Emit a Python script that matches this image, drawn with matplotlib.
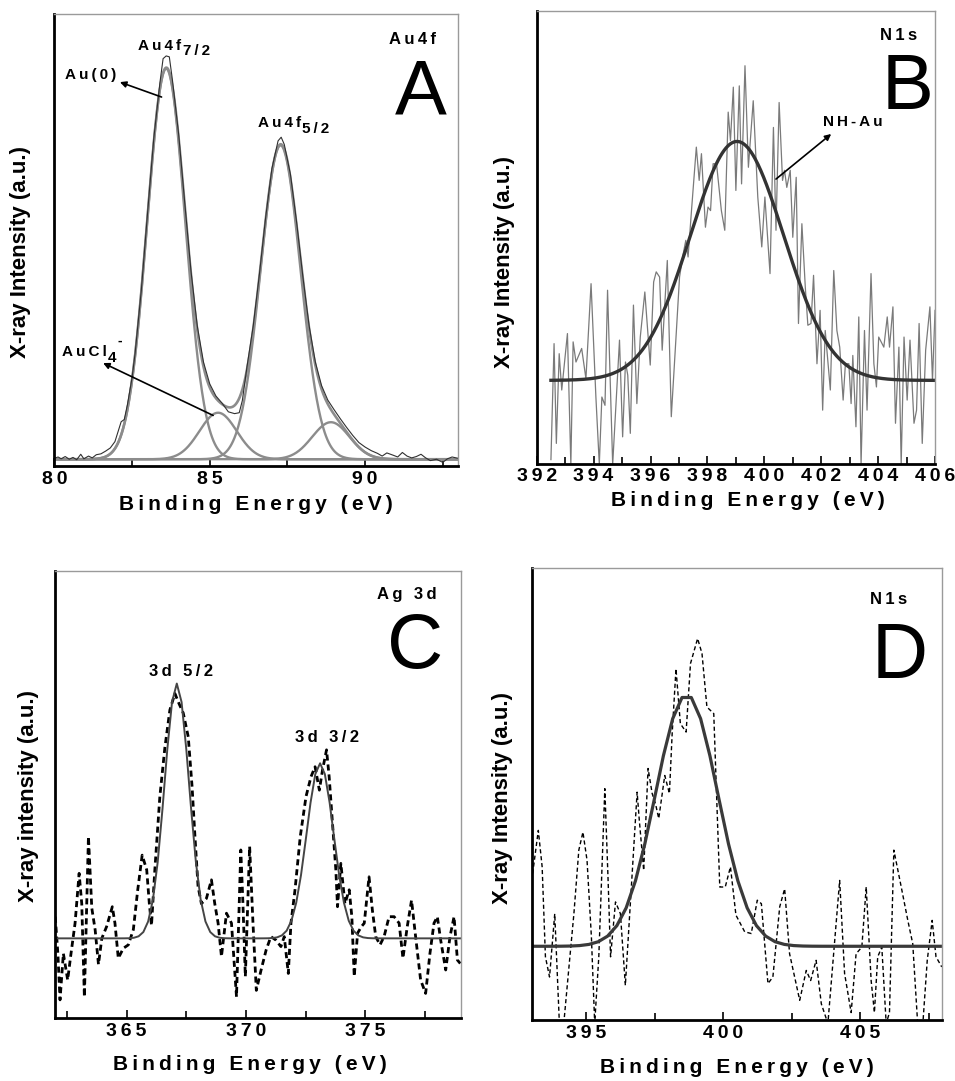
import numpy as np
import matplotlib.pyplot as plt

plt.rcParams['font.family'] = ['Liberation Sans', 'DejaVu Sans']

# ---------------- A : Au 4f ----------------
a_energy = [80.0, 80.12, 80.22, 80.35, 80.48, 80.6, 80.72, 80.85, 80.95, 81.1,
            81.22, 81.35, 81.5, 81.65, 81.8, 81.95, 82.05, 82.15, 82.25, 82.35,
            82.5, 82.6, 82.8, 83.0, 83.2, 83.4, 83.5, 83.6, 83.7, 83.8,
            84.0, 84.2, 84.4, 84.6, 84.8, 85.0, 85.2, 85.4, 85.6, 85.8,
            85.95, 86.05, 86.1, 86.2, 86.4, 86.6, 86.8, 87.0, 87.2, 87.3,
            87.4, 87.6, 87.8, 88.0, 88.2, 88.4, 88.6, 88.8, 89.0, 89.2,
            89.4, 89.6, 89.8, 90.0, 90.2, 90.4, 90.55, 90.7, 90.9, 91.05,
            91.2, 91.35, 91.5, 91.65, 91.8, 91.95, 92.1, 92.3, 92.5, 92.65,
            92.8, 93.0]
a_counts = [1.7, 2.0, 1.6, 2.1, 1.5, 1.9, 1.4, 2.6, 1.6, 2.2,
            1.8, 2.5, 2.7, 3.3, 4.0, 5.4, 7.6, 9.8, 10.3, 13.5,
            19.5, 25.0, 39.0, 56.0, 72.5, 85.0, 90.2, 90.8, 90.6, 85.5,
            73.5, 58.0, 43.0, 31.0, 23.0, 18.2, 15.5, 13.9, 12.0, 11.6,
            11.8, 14.5, 17.0, 22.0, 31.0, 42.5, 55.0, 65.8, 72.0, 72.8,
            71.2, 64.5, 53.8, 41.8, 31.0, 23.0, 17.8, 14.6, 12.5, 10.5,
            8.6, 6.8, 5.2, 4.2, 3.4, 2.8, 2.2, 2.9, 2.4, 2.0,
            3.0, 2.2, 1.8, 2.1, 2.6, 1.8, 1.2, 1.5, 0.8, 1.6,
            2.0, 1.7]
# fitted components: Au4f7/2, AuCl4-, Au4f5/2, AuCl4- (5/2)
a_center = [83.6, 85.27, 87.28, 88.9]
a_height = [86.5, 10.3, 69.5, 8.2]
a_sigma = [0.615, 0.6, 0.64, 0.6]
a_base = 1.5
a_ylim = (0, 100)

# ---------------- B : N 1s ----------------
b_energy = [392.5, 392.61, 392.69, 392.79, 392.88, 393.08, 393.2, 393.28, 393.38, 393.58,
            393.73, 393.91, 394.08, 394.2, 394.29, 394.4, 394.49, 394.67, 394.91, 395.02,
            395.12, 395.2, 395.29, 395.4, 395.52, 395.64, 395.8, 395.99, 396.11, 396.2,
            396.32, 396.41, 396.59, 396.73, 396.91, 397.02, 397.14, 397.24, 397.32, 397.44,
            397.61, 397.71, 397.79, 397.93, 398.02, 398.11, 398.2, 398.32, 398.49, 398.61,
            398.73, 398.81, 398.91, 399.0, 399.12, 399.2, 399.32, 399.44, 399.61, 399.77,
            399.91, 400.02, 400.2, 400.32, 400.41, 400.52, 400.64, 400.71, 400.79, 400.91,
            401.0, 401.12, 401.2, 401.32, 401.44, 401.53, 401.64, 401.73, 401.85, 401.96,
            402.05, 402.14, 402.32, 402.44, 402.55, 402.65, 402.77, 402.85, 402.97, 403.05,
            403.11, 403.22, 403.32, 403.4, 403.52, 403.61, 403.75, 403.85, 403.94, 404.02,
            404.2, 404.32, 404.4, 404.52, 404.61, 404.73, 404.81, 404.91, 405.02, 405.12,
            405.26, 405.35, 405.44, 405.55, 405.67, 405.82, 405.91, 406.0]
b_counts = [-2.4, 24.1, 1.3, 21.8, 13.5, 26.4, -3.5, 24.5, 19.9, 23.0,
            16.1, 37.8, 11.9, -3.5, 11.9, 10.0, 36.3, -3.5, 24.9, 2.8,
            19.9, 16.9, 3.6, 32.9, 10.4, 25.6, 35.9, 19.2, 38.2, 40.5,
            39.3, 22.6, 43.1, 7.4, 27.1, 39.3, 44.3, 47.7, 43.9, 54.5,
            69.0, 61.4, 67.5, 50.7, 55.3, 54.5, 65.2, 65.2, 54.5, 50.0,
            77.0, 70.5, 82.7, 59.1, 83.0, 60.6, 87.6, 64.4, 79.6, 57.6,
            46.2, 57.6, 40.1, 73.5, 50.0, 79.2, 61.4, 63.7, 59.8, 63.7,
            48.4, 62.1, 28.7, 51.5, 37.0, 28.3, 28.7, 39.7, 19.5, 31.7,
            8.9, 27.1, 13.5, 40.8, 27.1, 23.3, 11.2, 19.5, 19.5, 10.4,
            21.4, 5.1, 30.2, -3.5, 27.1, 8.9, 40.1, 19.5, 14.2, 25.6,
            23.3, 30.2, 23.3, 32.5, 5.9, 23.3, -3.5, 25.6, 11.2, 24.9,
            5.9, 8.9, 28.7, 1.3, 22.6, 32.5, 15.7, 31.7]
b_center, b_height, b_sigma, b_base = 399.04, 54.6, 1.64, 15.7
b_ylim = (-3.3, 100.1)

# ---------------- C : Ag 3d ----------------
c_energy = [362.01, 362.12, 362.21, 362.35, 362.53, 362.67, 362.84, 363.01, 363.12, 363.23,
            363.4, 363.54, 363.68, 363.82, 363.96, 364.16, 364.4, 364.51, 364.65, 364.86,
            365.07, 365.28, 365.46, 365.65, 365.84, 365.95, 366.04, 366.18, 366.39, 366.6,
            366.81, 367.02, 367.19, 367.37, 367.58, 367.74, 367.86, 367.99, 368.13, 368.34,
            368.55, 368.69, 368.83, 368.97, 369.18, 369.39, 369.6, 369.78, 369.87, 369.97,
            370.15, 370.29, 370.43, 370.63, 370.84, 371.04, 371.25, 371.46, 371.6, 371.77,
            371.88, 372.05, 372.27, 372.51, 372.72, 372.89, 373.07, 373.2, 373.37, 373.48,
            373.62, 373.76, 373.83, 373.97, 374.14, 374.32, 374.43, 374.53, 374.67, 374.83,
            374.95, 375.15, 375.29, 375.43, 375.61, 375.78, 375.99, 376.2, 376.41, 376.57,
            376.75, 376.93, 377.1, 377.31, 377.52, 377.7, 377.87, 378.01, 378.15, 378.36,
            378.54, 378.71, 378.85, 378.97]
c_counts = [20.0, 11.5, 0.8, 11.5, 5.4, 11.5, 18.5, 30.0, 23.0, 1.5,
            38.5, 22.0, 17.0, 9.0, 15.0, 17.7, 22.3, 18.5, 10.4, 12.7,
            13.5, 17.0, 26.0, 34.2, 30.8, 23.0, 18.0, 30.8, 47.7, 59.0,
            67.7, 71.5, 69.2, 67.0, 61.5, 50.0, 38.5, 27.0, 23.0, 24.2,
            28.5, 23.0, 18.5, 10.8, 20.8, 18.5, 1.5, 35.4, 23.0, 6.2,
            36.2, 18.5, 3.0, 7.7, 12.3, 15.4, 14.6, 13.1, 15.4, 6.9,
            18.5, 26.2, 38.5, 47.7, 52.3, 54.6, 49.2, 53.8, 58.5, 52.3,
            41.5, 30.8, 22.3, 32.3, 23.0, 26.2, 20.0, 6.2, 16.2, 17.7,
            18.5, 29.2, 21.5, 15.4, 13.5, 15.4, 20.0, 20.0, 18.5, 10.4,
            17.7, 23.8, 15.4, 5.4, 2.3, 11.5, 18.5, 20.0, 14.6, 7.7,
            15.4, 20.0, 10.0, 9.2]
# 3d5/2 and 3d3/2 fit
c_center = [367.1, 373.1]
c_height = [58.8, 40.4]
c_sigma = [0.515, 0.56]
c_base = 15.0
c_step = 0.2
c_ylim = (-3.3, 99.8)

# ---------------- D : N 1s ----------------
d_energy = [393.0, 393.24, 393.38, 393.5, 393.65, 393.84, 394.01, 394.17, 394.36, 394.54,
            394.72, 394.87, 395.02, 395.18, 395.3, 395.45, 395.67, 395.79, 395.88, 396.06,
            396.24, 396.42, 396.61, 396.85, 396.93, 397.09, 397.25, 397.4, 397.52, 397.64,
            397.86, 398.03, 398.13, 398.27, 398.43, 398.64, 398.8, 399.06, 399.22, 399.4,
            399.65, 399.87, 400.07, 400.26, 400.46, 400.78, 401.02, 401.24, 401.39, 401.63,
            401.81, 402.06, 402.24, 402.42, 402.79, 403.03, 403.19, 403.39, 403.58, 403.82,
            404.06, 404.25, 404.43, 404.67, 404.85, 405.06, 405.22, 405.4, 405.52, 405.64,
            405.79, 405.95, 406.07, 406.23, 406.5, 406.74, 406.92, 407.1, 407.29, 407.45,
            407.63, 407.77, 407.98]
d_counts = [28.6, 40.0, 31.7, 11.2, 6.6, 21.0, -4.0, -4.0, 8.9, 21.0,
            35.5, 39.6, 33.2, 15.7, -4.0, 11.2, 49.5, 28.6, 11.2, 23.7,
            21.0, 4.7, 24.1, 48.7, 42.3, 30.9, 54.1, 48.4, 46.1, 42.7,
            52.5, 48.4, 62.0, 76.8, 64.3, 62.4, 78.0, 83.7, 80.3, 68.1,
            66.6, 27.1, 27.1, 31.7, 20.7, 16.9, 16.5, 24.1, 23.3, 5.1,
            6.6, 22.6, 26.7, 11.9, 1.3, 8.1, 5.8, 10.4, 0.5, -4.0,
            14.2, 28.6, 7.4, -1.5, 11.9, 13.4, 27.1, 5.8, -1.5, 11.2,
            13.4, -4.0, -1.5, 35.5, 27.1, 19.5, 14.2, -4.0, -4.0, 10.4,
            19.5, 11.2, 8.9]
d_center, d_height, d_sigma, d_base = 398.66, 57.3, 1.14, 13.6
d_step = 0.34
d_first = 392.71
d_ylim = (-3.2, 99.7)


def gauss(x, c, h, s):
    return h * np.exp(-(x - c) ** 2 / (2.0 * s * s))


def spaced(s):
    # wide letter spacing used on all the bold labels
    return '\u2009'.join(s)


def frame(ax, xlim, ylim, major, minor, ylab, xlab_pos, ylab_pos):
    ax.set_xlim(*xlim)
    ax.set_ylim(*ylim)
    ax.set_xticks(major)
    ax.set_xticks(minor, minor=True)
    ax.set_xticklabels([spaced(str(t)) for t in major], fontsize=14, fontweight='bold')
    ax.set_yticks([])
    ax.tick_params(axis='x', which='both', direction='in', pad=3.5, width=1.2)
    ax.tick_params(axis='x', which='major', length=6)
    ax.tick_params(axis='x', which='minor', length=5)
    for side in ['left', 'bottom']:
        ax.spines[side].set_linewidth(2.0)
        ax.spines[side].set_color('black')
    for side in ['top', 'right']:
        ax.spines[side].set_linewidth(1.0)
        ax.spines[side].set_color('#9a9a9a')
    ax.set_xlabel(spaced('Binding Energy (eV)'), fontsize=15, fontweight='bold')
    ax.xaxis.set_label_coords(*xlab_pos)
    ax.xaxis.label.set_va('center')
    ax.set_ylabel(ylab, fontsize=16, fontweight='bold')
    ax.yaxis.set_label_coords(*ylab_pos)
    ax.yaxis.label.set_va('center')


def big_letter(ax, x, y, s):
    ax.text(x, y, s, fontsize=56, ha='center', va='baseline')


def tag(ax, x, y, s, size=12, ha='center'):
    return ax.text(x, y, spaced(s), fontsize=size, fontweight='bold', ha=ha, va='baseline')


def sub(ax, base, s, dy=-4, size=10):
    return ax.annotate(s, xy=(1, 0), xycoords=base, xytext=(1, dy),
                       textcoords='offset points', va='bottom', ha='left',
                       fontsize=size, fontweight='bold')


def arrow(ax, tail, head):
    ax.annotate('', xy=head, xytext=tail,
                arrowprops=dict(arrowstyle='-|>', color='black', lw=1.2,
                                mutation_scale=9, shrinkA=0, shrinkB=0))


fig = plt.figure(figsize=(9.55, 10.81), dpi=100)

# A
ax = fig.add_axes([0.0569, 0.5689, 0.4230, 0.4178])
xa = np.linspace(80, 93, 600)
envelope = a_base + sum(gauss(xa, c, h, s) for c, h, s in zip(a_center, a_height, a_sigma))
for c, h, s in zip(a_center, a_height, a_sigma):
    ax.plot(xa, a_base + gauss(xa, c, h, s), color='#8c8c8c', lw=1.7)
ax.plot(xa, envelope, color='#8c8c8c', lw=1.9)
ax.plot(a_energy, a_counts, color='#303030', lw=0.8)
frame(ax, (80, 93), a_ylim, [80, 85, 90], [82.5, 87.5, 92.5], 'X-ray Intensity (a.u.)',
      (0.498, -0.086), (-0.084, 0.474))
tag(ax, 91.53, 93.5, 'Au4f')
big_letter(ax, 91.8, 77.8, 'A')
t = tag(ax, 82.7, 92.2, 'Au4f', size=11, ha='left')
sub(ax, t, spaced('7/2'), size=11)
t = tag(ax, 86.55, 75.0, 'Au4f', size=11, ha='left')
sub(ax, t, spaced('5/2'), size=11)
tag(ax, 80.34, 85.6, 'Au(0)', size=11, ha='left')
arrow(ax, (83.45, 81.7), (82.11, 85.0))
t = tag(ax, 80.24, 24.3, 'AuCl', size=11, ha='left')
s4 = sub(ax, t, '4', size=11)
ax.annotate('-', xy=(1, 1), xycoords=s4, xytext=(1, 2), textcoords='offset points',
            va='bottom', ha='left', fontsize=10, fontweight='bold')
arrow(ax, (85.11, 11.2), (81.57, 22.8))

# B
ax = fig.add_axes([0.5620, 0.5712, 0.4171, 0.4186])
xb = np.linspace(392.5, 406, 400)
ax.plot(b_energy, b_counts, color='#7a7a7a', lw=0.9)
ax.plot(xb, b_base + gauss(xb, b_center, b_height, b_sigma), color='#333333', lw=2.4)
frame(ax, (392, 406), b_ylim, list(range(392, 407, 2)), list(range(393, 406, 2)),
      'X-ray Intensity (a.u.)', (0.53, -0.081), (-0.080, 0.445))
tag(ax, 404.73, 93.5, 'N1s')
big_letter(ax, 405.02, 77.7, 'B')
tag(ax, 402.06, 73.9, 'NH-Au', size=11, ha='left')
arrow(ax, (400.41, 61.7), (402.35, 72.0))

# C
ax = fig.add_axes([0.0576, 0.0586, 0.4251, 0.4133])
xc = np.arange(361.9, 379.2, c_step)
fit_c = c_base + sum(gauss(xc, c, h, s) for c, h, s in zip(c_center, c_height, c_sigma))
ax.plot(c_energy, c_counts, color='black', lw=2.0, dashes=(2.2, 1.4))
ax.plot(xc, fit_c, color='#454545', lw=1.4)
frame(ax, (362, 379), c_ylim, [365, 370, 375], [362.5, 367.5, 372.5, 377.5],
      'X-ray intensity (a.u.)', (0.48, -0.105), (-0.066, 0.495))
tag(ax, 376.75, 93.2, 'Ag 3d')
big_letter(ax, 377.1, 77.3, 'C')
tag(ax, 367.27, 75.5, '3d 5/2')
tag(ax, 373.41, 60.2, '3d 3/2')

# D
ax = fig.add_axes([0.5568, 0.0564, 0.4299, 0.4179])
xd = np.arange(d_first, 408.4, d_step)
ax.plot(d_energy, d_counts, color='black', lw=1.0, dashes=(3, 2))
ax.plot(xd, d_base + gauss(xd, d_center, d_height, d_sigma), color='#3a3a3a', lw=2.3)
frame(ax, (393, 408), d_ylim, [395, 400, 405], [397.5, 402.5, 407.5],
      'X-ray Intensity (a.u.)', (0.50, -0.104), (-0.071, 0.492))
tag(ax, 406.03, 91.6, 'N1s')
big_letter(ax, 406.46, 74.6, 'D')

fig.savefig('out.png', dpi=100)
